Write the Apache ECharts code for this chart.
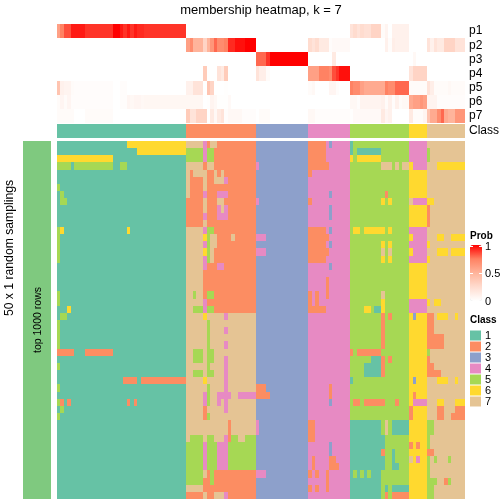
<!DOCTYPE html>
<html><head><meta charset="utf-8">
<style>html,body{margin:0;padding:0;background:#fff}#c{width:504px;height:504px}</style>
<script src="https://cdn.jsdelivr.net/npm/echarts@6/dist/echarts.min.js"></script>
</head><body><div id="c"></div>
<script>
const probLabels = ['p1','p2','p3','p4','p5','p6','p7'];
const classNames = ['1','2','3','4','5','6','7'];
const classColors = ['#66C2A5','#FC8D62','#8DA0CB','#E78AC3','#A6D854','#FFD92F','#E5C494'];
const nCols = 117;
// probabilities in percent, written as value*repeat
const p1 = "60 75 85*2 95*4 90*8 100*2 95 90 95 90 95 92*2 90*12 0*47 20 25 20 25 22*2 30*3 3 8 0 10*5";
const p2 = "0*37 60 70 50*3 30 50 65 80 70*2 75 92*2 97*3 100*3 0*15 25 20 25 15*3 2 4*5 0*10 10 2 12 10*4 0*5 20 10 20 15*2 30*3 20*3";
const p3 = "0*57 80*3 90 100*11 0*7 15 0*22 5";
const p4 = "0*42 35 0*3 20 15 35 0*8 20 12*2 3 0*11 60*3 75*3 70 85 90 97*3 0*17 20 30*4";
const p5 = "40 10 8*2 3 2*11 0*2 2*2 0*17 10*2 20*3 0 40 30 0*3 1 0*23 3 5 0*4 7 7 2 0*3 75 70*2 60 55*6 75 70*2 80*4 3*5 20 12 3*3 3 5 3*4";
const p6 = "3 7 3 7 2*12 0*2 2*2 7 5 7*2 5 6*12 6*5 0 1 8 5 1*3 4 0*34 5*2 2 8 8*5 10 3 10 2 10 3 5*2 55 60*2 65 60 8*3 2*8";
const p7 = "3*5 0*3 3*8 0*21 35 20*2 30*3 0 15 5 15 20 2 5 5*3 2*4 0 3*3 0*11 5*2 2*10 1 4*8 15 7 10 0*5 15 3*3 8 40 55*2 70 80 55 50*2 65*3";
const probRows = [p1,p2,p3,p4,p5,p6,p7];
// class of each cell per sampling row, written as class>lastColumn
const sampleRows = [
"1>19 6>36 7>41 4>42 2>43 7>45 2>56 3>71 2>76 4>77 3>78 4>83 1>84 5>100 4>105 7>116",
"1>22 6>36 5>41 4>42 5>44 2>56 3>71 2>76 4>83 1>84 5>85 1>92 5>100 4>105 5>106 7>116",
"6>15 1>36 5>41 4>42 5>44 2>56 3>71 2>76 4>83 6>84 5>85 6>92 5>100 4>105 5>106 7>116",
"5>3 1>4 5>15 1>17 5>19 1>36 7>41 2>42 7>44 2>56 4>57 3>71 2>77 4>83 5>92 7>95 5>96 7>97 5>98 7>100 6>101 4>105 7>108 6>116",
"1>36 7>37 2>38 7>42 2>44 7>45 2>46 7>47 2>56 3>71 2>72 4>83 5>100 6>105 7>116",
"1>36 7>37 2>41 7>42 2>44 7>47 4>48 2>56 3>71 4>83 5>100 6>105 7>116",
"5>0 1>36 7>37 2>41 7>42 2>56 3>71 4>83 5>100 6>105 7>116",
"1>0 5>1 1>36 7>37 2>41 4>42 2>45 4>48 2>56 3>71 4>77 3>78 4>83 5>93 2>94 5>100 6>105 7>116",
"1>0 5>2 1>36 2>41 7>42 2>45 7>47 2>56 4>57 3>71 2>72 4>83 5>92 6>93 5>94 6>95 5>100 7>101 4>105 6>107 7>116",
"1>36 2>41 7>42 2>45 4>46 7>47 4>48 2>56 3>71 4>77 3>78 4>83 5>100 6>105 2>106 7>116",
"1>36 2>41 4>42 2>45 4>48 2>56 3>71 4>77 3>78 4>83 5>100 6>105 2>106 7>116",
"1>36 2>41 7>42 2>56 3>71 4>83 5>100 6>105 2>106 7>116",
"5>0 6>1 1>19 6>20 1>36 7>41 4>42 5>44 2>56 3>71 2>76 4>77 3>78 4>83 5>84 6>86 5>87 6>93 5>94 6>95 5>100 4>105 7>116",
"5>0 1>36 7>41 6>42 5>43 7>45 2>49 7>50 2>56 4>59 3>71 2>77 4>83 5>100 6>101 4>105 7>108 6>110 7>112 6>116",
"5>0 1>36 7>41 4>42 5>43 7>45 2>56 3>71 2>76 4>77 3>78 4>83 5>92 6>93 5>94 6>95 5>100 4>105 6>106 7>116",
"5>0 1>36 7>41 6>42 5>43 7>44 2>56 4>59 3>71 2>77 4>83 5>92 7>93 5>94 7>95 5>100 6>101 4>105 7>108 6>111 7>112 6>116",
"5>0 1>36 7>41 4>42 5>43 7>44 2>56 3>71 2>76 4>83 5>92 6>93 5>94 6>95 5>100 4>105 6>106 7>116",
"1>36 7>41 4>42 2>45 4>47 2>56 3>71 4>77 3>78 4>83 5>100 6>105 7>116",
"1>36 7>41 2>56 3>71 4>83 5>100 6>105 7>116",
"1>36 7>41 2>56 3>71 4>76 2>77 4>83 5>100 6>105 7>116",
"1>36 7>41 2>56 3>71 4>76 2>77 4>83 5>100 6>105 7>116",
"5>0 1>36 7>38 5>39 7>41 2>42 5>44 2>56 3>71 2>72 4>73 2>74 4>76 2>77 4>83 5>92 7>93 5>100 6>105 7>116",
"5>0 1>36 7>41 4>42 2>56 3>71 2>72 4>73 2>74 4>83 5>92 6>93 5>100 4>105 6>106 7>107 6>109 7>116",
"1>2 6>3 1>36 7>38 5>41 4>42 5>44 2>56 3>71 2>76 4>83 5>87 6>89 5>90 1>92 6>93 5>100 4>105 7>116",
"1>0 5>2 1>36 7>41 6>42 7>47 4>48 7>56 3>71 4>83 5>92 2>93 5>94 2>95 5>100 6>101 3>102 6>105 2>107 7>108 6>111 7>113 6>114 7>116",
"5>0 1>36 7>42 5>43 7>56 3>71 4>83 5>92 2>93 5>100 6>105 2>107 7>116",
"5>0 1>36 7>42 5>43 7>47 4>48 7>56 3>71 4>83 5>92 2>93 5>100 6>105 2>107 7>116",
"5>0 1>36 7>42 5>43 7>56 3>71 4>83 5>92 2>93 5>100 6>105 2>110 7>116",
"5>0 1>36 7>42 5>43 7>47 4>48 7>56 3>71 4>83 5>92 2>93 5>100 6>105 2>110 7>116",
"2>4 1>7 2>15 1>36 7>38 5>41 7>42 5>44 7>56 3>71 4>83 2>84 5>85 2>92 5>100 6>105 5>106 7>116",
"1>36 7>38 5>41 7>42 5>44 7>47 4>48 7>56 3>71 4>83 5>89 1>92 2>93 5>94 2>95 5>100 6>105 2>106 7>116",
"5>0 1>36 7>42 5>43 7>47 4>48 7>56 3>71 4>83 5>87 1>92 2>93 5>100 6>105 2>107 7>116",
"1>36 7>38 5>41 7>42 5>44 7>47 4>48 7>56 3>71 4>83 5>87 1>92 2>93 5>100 6>105 2>109 7>116",
"1>18 2>22 1>23 2>36 7>41 6>42 7>47 4>48 7>56 3>71 4>83 1>84 5>100 6>101 3>102 6>105 7>108 6>111 7>113 6>114 7>116",
"5>0 1>36 7>42 5>43 7>47 4>48 7>56 2>59 3>71 4>77 2>78 4>83 5>100 6>105 7>116",
"1>36 7>41 4>42 5>43 7>45 4>49 7>51 4>56 2>60 3>71 4>77 2>78 4>83 5>100 6>101 2>102 6>105 7>116",
"5>0 2>1 1>2 2>3 1>19 2>20 1>21 2>22 1>36 7>41 4>42 5>43 7>45 4>46 7>47 4>48 7>56 3>71 4>77 3>78 4>83 5>84 2>86 5>87 2>93 5>96 2>97 5>100 6>101 4>105 7>108 6>110 7>113 6>116",
"1>0 5>1 1>36 7>41 2>42 7>47 4>48 7>56 3>71 4>83 5>100 2>101 6>105 7>108 2>110 7>113 2>116",
"5>0 1>36 7>41 2>42 5>43 7>56 3>71 4>83 5>100 2>101 6>105 7>108 2>110 7>112 2>116",
"1>36 7>48 2>49 7>56 4>57 3>71 2>73 4>83 1>92 5>93 7>94 5>95 1>100 6>105 5>107 7>116",
"1>36 7>48 2>49 7>56 4>57 3>71 2>73 4>83 1>92 5>93 7>94 5>95 1>100 6>105 5>107 7>116",
"1>36 7>37 5>41 7>42 5>44 7>47 4>48 2>49 5>51 7>53 5>56 3>71 2>73 4>83 1>93 5>100 6>105 5>106 7>116",
"1>36 5>41 4>42 5>45 4>48 5>56 3>71 4>77 3>78 4>83 1>93 5>100 2>101 6>102 2>103 6>105 5>106 7>116",
"1>36 5>41 4>42 5>45 4>48 5>56 3>71 4>77 3>78 4>83 1>92 2>93 5>95 1>96 5>100 6>105 2>107 7>116",
"1>36 5>41 4>42 5>45 4>48 5>56 3>71 4>72 2>73 4>77 2>79 4>83 1>93 5>95 1>96 5>100 7>101 6>102 4>103 6>105 5>106 7>107 5>108 7>111 5>112 7>116",
"1>36 5>41 4>42 5>45 4>48 5>56 3>71 4>72 2>73 4>77 2>80 4>83 1>93 5>95 1>97 5>100 6>105 5>106 7>116",
"1>36 5>41 7>42 2>43 5>44 2>56 4>59 3>71 2>72 4>73 2>74 4>76 2>77 4>83 1>84 5>85 1>86 5>87 1>88 5>89 1>92 5>100 6>105 5>106 7>116",
"1>36 5>41 2>43 5>44 2>56 3>71 4>76 2>77 4>83 1>92 5>100 6>105 5>108 7>110 2>111 5>112 7>116",
"1>36 7>41 2>56 3>71 2>72 4>73 2>74 4>76 2>77 4>83 1>92 5>93 1>94 5>95 1>100 6>105 5>107 7>116",
"1>36 2>41 7>42 2>44 7>47 4>48 2>56 3>71 4>83 1>92 5>93 2>94 5>95 2>100 6>105 5>107 7>116"
];
const classAnnotation = "1>36 2>56 3>71 4>83 5>100 6>105 7>116";

const decodeProb = s => { const out = [];
  s.split(' ').forEach(t => { const [v, n] = t.split('*'); for (let i = 0; i < (+n || 1); i++) out.push(+v / 100); });
  while (out.length < nCols) out.push(0); return out; };
const decodeClass = s => { const out = [];
  s.split(' ').forEach(t => { const [v, e] = t.split('>'); while (out.length <= +e) out.push(+v); }); return out; };

const cols = Array.from({length: nCols}, (_, i) => i);
const font = 'Liberation Sans, Arial, sans-serif';
const cells = rows => rows.flatMap((r, y) => r.map((v, x) => [x, y, v]));
const probData = cells(probRows.map(decodeProb));
const classData = cells(sampleRows.map(decodeClass));
const annotData = cells([decodeClass(classAnnotation)]);

const xA = g => ({type:'category', gridIndex:g, data:cols, show:false, boundaryGap:true});
const yA = (g, data, show) => ({type:'category', gridIndex:g, data, inverse:true, position:'right', boundaryGap:true,
  axisLine:{show:false}, axisTick:{show:false}, splitLine:{show:false},
  axisLabel:{show, color:'#000', fontFamily:font, fontSize:12, margin:4, interval:0}});
// cells snapped to whole pixels from the axis scales, so neighbouring cells leave no seam
const renderCell = (params, api) => {
  const c = api.coord([api.value(0), api.value(1)]);
  const s = api.size([1, 1]);
  const x0 = Math.round(c[0] - s[0] / 2), x1 = Math.round(c[0] + s[0] / 2);
  const y0 = Math.round(c[1] - s[1] / 2), y1 = Math.round(c[1] + s[1] / 2);
  return {type:'rect', shape:{x:x0, y:y0, width:x1 - x0, height:y1 - y0}, style:{fill:api.visual('color')}};
};
const hm = (g, data, extra) => Object.assign({type:'custom', renderItem:renderCell, coordinateSystem:'cartesian2d',
  xAxisIndex:g, yAxisIndex:g, data, encode:{x:0, y:1}, silent:true, animation:false, progressive:0}, extra||{});
const txt = (x,y,text,size,extra,rot) => ({type:'text', x, y, rotation:rot||0, silent:true, z:200, style:Object.assign({text, fontFamily:font, fontSize:size, fill:'#000', align:'left', verticalAlign:'middle'}, extra||{})});
const tick = (x,y) => ({type:'rect', x, y, silent:true, z:100, shape:{width:3,height:1}, style:{fill:'#fff'}});

const chart = echarts.init(document.getElementById('c'), null, {renderer:'canvas'});
chart.setOption({
  animation:false,
  backgroundColor:'#fff',
  title:{text:'membership heatmap, k = 7', left:261, top:4, padding:0, textAlign:'center',
    textStyle:{fontFamily:font, fontSize:13, fontWeight:'normal', color:'#000'}},
  grid:[
    {left:57, top:24, width:408, height:99},
    {left:57, top:124, width:408, height:14},
    {left:57, top:141, width:408, height:358},
    {left:23, top:141, width:28, height:358}
  ],
  xAxis:[xA(0), xA(1), xA(2), {type:'category', gridIndex:3, data:['a'], show:false}],
  yAxis:[yA(0, probLabels, true), yA(1, ['Class'], true), yA(2, sampleRows.map((_,i)=>i), false), yA(3, ['top 1000 rows'], false)],
  visualMap:[
    {type:'continuous', seriesIndex:0, dimension:2, min:0, max:1, calculable:false, realtime:false, showLabel:false, padding:0,
     left:470, top:245, itemWidth:12, itemHeight:56, inRange:{color:['#FFFFFF','#FFDCCF','#FFB49B','#FF8263','#FF0000']}, hoverLink:false},
    {type:'piecewise', seriesIndex:[1,2], dimension:2, left:470, top:330, itemWidth:11, itemHeight:10, itemGap:0, itemSymbol:'rect', padding:0,
     orient:'vertical', align:'left', hoverLink:false, selectedMode:false, textGap:4, inverse:true,
     textStyle:{fontFamily:font, fontSize:11, color:'#000'},
     pieces:classNames.map((n,i)=>({value:i+1, label:n, color:classColors[i]}))}
  ],
  series:[
    hm(0, probData),
    hm(1, annotData),
    hm(2, classData),
    hm(3, [[0,0,1]], {itemStyle:{color:'#7FC97F'}})
  ],
  graphic:[
    txt(10, 248, '50 x 1 random samplings', 12.2, {align:'center'}, Math.PI/2),
    txt(38, 320, 'top 1000 rows', 10.5, {align:'center'}, Math.PI/2),
    txt(470, 236, 'Prob', 10, {fontWeight:'bold'}),
    txt(470, 320, 'Class', 10, {fontWeight:'bold'}),
    txt(485, 247, '1', 11),
    txt(485, 274, '0.5', 11),
    txt(485, 302, '0', 11),
    tick(470,246), tick(479,246), tick(470,273), tick(479,273)
  ]
});
</script></body></html>
